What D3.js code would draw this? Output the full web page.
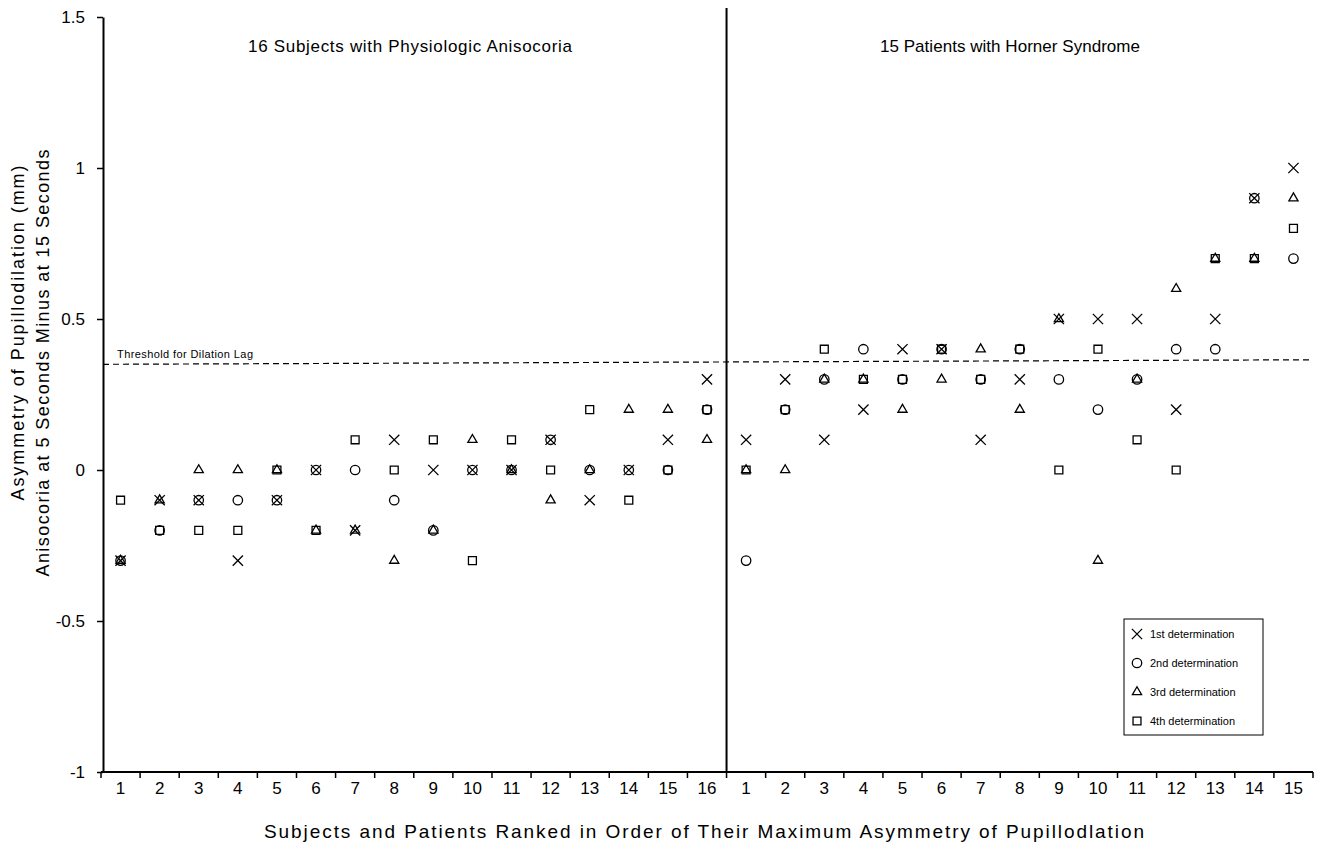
<!DOCTYPE html>
<html>
<head>
<meta charset="utf-8">
<script src="https://cdn.jsdelivr.net/npm/d3@7"></script>
<style>
  html, body { margin: 0; padding: 0; background: #fff; }
  svg { display: block; font-family: "Liberation Sans", Arial, sans-serif; }
</style>
</head>
<body>
<svg id="chart" width="1320" height="842"></svg>
<script>
// ---- data ----
const categories = [
  "S1","S2","S3","S4","S5","S6","S7","S8","S9","S10","S11","S12","S13","S14","S15","S16",
  "P1","P2","P3","P4","P5","P6","P7","P8","P9","P10","P11","P12","P13","P14","P15"
];
const tickLabels = [
  "1","2","3","4","5","6","7","8","9","10","11","12","13","14","15","16",
  "1","2","3","4","5","6","7","8","9","10","11","12","13","14","15"
];
const firstDetermination = [
  -0.3,-0.1,-0.1,-0.3,-0.1, 0.0,-0.2, 0.1, 0.0, 0.0, 0.0, 0.1,-0.1, 0.0, 0.1, 0.3,
   0.1, 0.3, 0.1, 0.2, 0.4, 0.4, 0.1, 0.3, 0.5, 0.5, 0.5, 0.2, 0.5, 0.9, 1.0
];
const secondDetermination = [
  -0.3,-0.2,-0.1,-0.1,-0.1, 0.0, 0.0,-0.1,-0.2, 0.0, 0.0, 0.1, 0.0, 0.0, 0.0, 0.2,
  -0.3, 0.2, 0.3, 0.4, 0.3, 0.4, 0.3, 0.4, 0.3, 0.2, 0.3, 0.4, 0.4, 0.9, 0.7
];
const thirdDetermination = [
  -0.3,-0.1, 0.0, 0.0, 0.0,-0.2,-0.2,-0.3,-0.2, 0.1, 0.0,-0.1, 0.0, 0.2, 0.2, 0.1,
   0.0, 0.0, 0.3, 0.3, 0.2, 0.3, 0.4, 0.2, 0.5,-0.3, 0.3, 0.6, 0.7, 0.7, 0.9
];
const fourthDetermination = [
  -0.1,-0.2,-0.2,-0.2, 0.0,-0.2, 0.1, 0.0, 0.1,-0.3, 0.1, 0.0, 0.2,-0.1, 0.0, 0.2,
   0.0, 0.2, 0.4, 0.3, 0.3, 0.4, 0.3, 0.4, 0.0, 0.4, 0.1, 0.0, 0.7, 0.7, 0.8
];
const seriesNames = ["1st determination","2nd determination","3rd determination","4th determination"];
const yTicks = [-1, -0.5, 0, 0.5, 1, 1.5];
const yTickLabels = ["-1","-0.5","0","0.5","1","1.5"];
const groupTitles = ["16 Subjects with Physiologic Anisocoria", "15 Patients with Horner Syndrome"];
const thresholdValues = [0.35, 0.365];   // left end, right end
const thresholdLabel = "Threshold for Dilation Lag";

// ---- layout ----
const svg = d3.select("#chart");
const x = d3.scaleBand().domain(categories).range([101, 1313]).padding(0);
const y = d3.scaleLinear().domain([-1, 1.5]).range([772, 17]);
const symbolTypes = [d3.symbolTimes, d3.symbolCircle, d3.symbolTriangle2, d3.symbolSquare2];
const symbolSizes = [70, 70, 60, 80];
const allSeries = [firstDetermination, secondDetermination, thirdDetermination, fourthDetermination];

// x axis
const xAxis = d3.axisBottom(x).tickSize(0).tickFormat((d, i) => tickLabels[i]).tickPadding(10);
const gx = svg.append("g").attr("transform", `translate(0,${y(-1)})`).call(xAxis);
gx.select(".domain").attr("stroke", "#000").attr("stroke-width", 2).attr("d", `M101,0H1313`);
gx.selectAll(".tick text").attr("font-size", 17).attr("fill", "#000");
const boundaries = categories.map(c => x(c)).concat([x.range()[1]]);
gx.selectAll("line.bt").data(boundaries).join("line")
  .attr("class", "bt")
  .attr("x1", d => d).attr("x2", d => d).attr("y1", 0).attr("y2", 6)
  .attr("stroke", "#000").attr("stroke-width", 1.5);

// y axis
const yAxis = d3.axisLeft(y).tickValues(yTicks).tickFormat((d, i) => yTickLabels[i]).tickSize(6).tickSizeOuter(0).tickPadding(12);
const gy = svg.append("g").attr("transform", `translate(103,0)`).call(yAxis);
gy.select(".domain").attr("stroke", "#000").attr("stroke-width", 2);
gy.selectAll(".tick line").attr("stroke", "#000").attr("stroke-width", 1.5);
gy.selectAll(".tick text").attr("font-size", 17).attr("fill", "#000");

// divider
const divX = x(categories[16]);
svg.append("line").attr("x1", divX).attr("x2", divX).attr("y1", 8).attr("y2", y(-1))
  .attr("stroke", "#000").attr("stroke-width", 2);

// group titles
svg.append("text").attr("x", 410).attr("y", 52).attr("text-anchor", "middle")
  .attr("font-size", 17).attr("textLength", 324).attr("lengthAdjust", "spacing").text(groupTitles[0]);
svg.append("text").attr("x", 1010).attr("y", 52).attr("text-anchor", "middle")
  .attr("font-size", 17).attr("textLength", 260).attr("lengthAdjust", "spacing").text(groupTitles[1]);

// threshold
svg.append("line").attr("x1", 103).attr("x2", 1313)
  .attr("y1", y(thresholdValues[0])).attr("y2", y(thresholdValues[1]))
  .attr("stroke", "#000").attr("stroke-width", 1.2).attr("stroke-dasharray", "6,4");
svg.append("text").attr("x", 117).attr("y", y(thresholdValues[0]) - 6)
  .attr("font-size", 11).attr("textLength", 136).attr("lengthAdjust", "spacing").text(thresholdLabel);

// points
allSeries.forEach((vals, si) => {
  const sym = d3.symbol().type(symbolTypes[si]).size(symbolSizes[si]);
  svg.append("g").selectAll("path").data(vals).join("path")
    .attr("d", sym)
    .attr("transform", (d, i) => `translate(${x(categories[i]) + x.bandwidth() / 2},${y(d)})`)
    .attr("fill", "none").attr("stroke", "#000").attr("stroke-width", 1.3);
});

// axis titles
svg.append("text").attr("transform", `translate(24,333) rotate(-90)`).attr("text-anchor", "middle")
  .attr("font-size", 18).attr("textLength", 335).attr("lengthAdjust", "spacing")
  .text("Asymmetry of Pupillodilation (mm)");
svg.append("text").attr("transform", `translate(49,363) rotate(-90)`).attr("text-anchor", "middle")
  .attr("font-size", 18).attr("textLength", 427).attr("lengthAdjust", "spacing")
  .text("Anisocoria at 5 Seconds Minus at 15 Seconds");
svg.append("text").attr("x", 704).attr("y", 838).attr("text-anchor", "middle")
  .attr("font-size", 19).attr("textLength", 880).attr("lengthAdjust", "spacing")
  .text("Subjects and Patients Ranked in Order of Their Maximum Asymmetry of Pupillodlation");

// legend
const lg = svg.append("g");
lg.append("rect").attr("x", 1124).attr("y", 619).attr("width", 139).attr("height", 116)
  .attr("fill", "#fff").attr("stroke", "#000").attr("stroke-width", 1);
seriesNames.forEach((name, i) => {
  const yy = 634 + i * 29;
  lg.append("path").attr("d", d3.symbol().type(symbolTypes[i]).size(symbolSizes[i])())
    .attr("transform", `translate(1137,${yy})`)
    .attr("fill", "none").attr("stroke", "#000").attr("stroke-width", 1.3);
  lg.append("text").attr("x", 1150).attr("y", yy + 4).attr("font-size", 11).text(name);
});
</script>
</body>
</html>
